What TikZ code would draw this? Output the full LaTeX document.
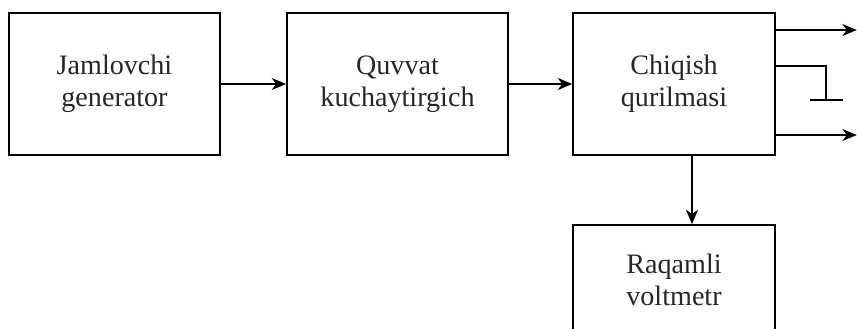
\documentclass[tikz,border=0pt]{standalone}
\usepackage{fontspec}
\setmainfont{Liberation Serif}
\usetikzlibrary{arrows.meta}
\begin{document}
\begin{tikzpicture}[line width=1.2pt,
  block/.style={draw,minimum height=3.55cm,align=center,
    font=\fontsize{20}{22.5}\selectfont,text=black!85},
  >={Stealth[length=3.6mm,width=3mm,inset=1.1mm]}]
\useasboundingbox (0,0) rectangle (21.425,-8.2);
\node [block,minimum width=5.275cm] (G) at (2.8625,-2.1) {Jamlovchi\\generator};
\node [block,minimum width=5.525cm] (K) at (9.9375,-2.1) {Quvvat\\kuchaytirgich};
\node [block,minimum width=5.05cm] (C) at (16.85,-2.1) {Chiqish\\qurilmasi};
\node [block,minimum width=5.05cm,minimum height=2.75cm] (V) at (16.85,-7.0) {Raqamli\\voltmetr};
\coordinate (O1) at (21.42,-0.75);
\coordinate (O2) at (21.42,-3.375);
\coordinate (E) at (20.65,-2.5);
\draw [->] (G) -- (K);
\draw [->] (K) -- (C);
\draw [->] ([xshift=4.5mm]C.south) -- ([xshift=4.5mm]V.north);
% outputs and ground
\draw [->] (C.east |- O1) -- (O1);
\draw [->] (C.east |- O2) -- (O2);
\draw (C.east |- 0,-1.65) -| (E);
\draw ([xshift=-4mm]E) -- ([xshift=4.25mm]E);
\end{tikzpicture}
\end{document}
